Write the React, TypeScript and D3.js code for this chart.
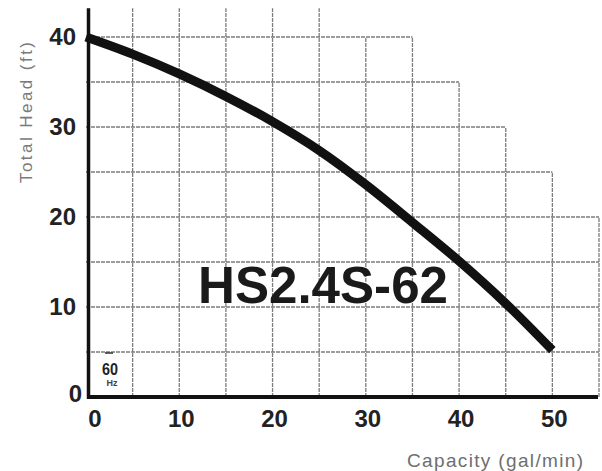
import { useEffect, useRef } from "react"
import * as d3 from "d3"

// pump curve, capacity (gal/min) vs total head (ft)
const capacity = [0, 5, 10, 15, 20, 25, 30, 35, 40, 45, 50]
const head = [40, 38.1, 35.9, 33.4, 30.6, 27.4, 23.6, 19.4, 15.1, 10.4, 5.2]

const xTicks = [0, 10, 20, 30, 40, 50]
const yTicks = [0, 10, 20, 30, 40]

// stepped grid: how far each horizontal line runs, how high each vertical line goes
const hGridY = [5, 10, 15, 20, 25, 30, 35, 40]
const hGridEnd = [55, 55, 55, 55, 50, 45, 40, 35]
const vGridX = [5, 10, 15, 20, 25, 30, 35, 40, 45, 50, 55]
const vGridTop = [43.2, 43.2, 43.2, 43.2, 43.2, 40, 40, 35, 30, 25, 20]

const modelName = "HS2.4S-62"

export default function App() {
  const svgRef = useRef<SVGSVGElement>(null)

  useEffect(() => {
    if (!svgRef.current) return
    const svg = d3.select(svgRef.current)
    svg.selectAll("*").remove()

    const x = d3.scaleLinear().domain([0, 55]).range([86, 599])
    const y = d3.scaleLinear().domain([0, 40]).range([397, 37])

    const grid = svg.append("g")
      .attr("stroke", "#7c7c7c")
      .attr("stroke-width", 1.3)
      .attr("stroke-dasharray", "4,1")

    grid.selectAll("line.h")
      .data(hGridY)
      .enter()
      .append("line")
      .attr("class", "h")
      .attr("x1", x(0))
      .attr("x2", (d, i) => x(hGridEnd[i]))
      .attr("y1", (d) => y(d))
      .attr("y2", (d) => y(d))

    grid.selectAll("line.v")
      .data(vGridX)
      .enter()
      .append("line")
      .attr("class", "v")
      .attr("x1", (d) => x(d))
      .attr("x2", (d) => x(d))
      .attr("y1", y(0))
      .attr("y2", (d, i) => y(vGridTop[i]))

    // axes lines
    svg.append("line")
      .attr("x1", x(0) + 2.5)
      .attr("x2", x(0) + 2.5)
      .attr("y1", y(43.2))
      .attr("y2", y(0) + 2)
      .attr("stroke", "#111")
      .attr("stroke-width", 3.5)

    svg.append("line")
      .attr("x1", x(0) + 1)
      .attr("x2", 598)
      .attr("y1", y(0))
      .attr("y2", y(0))
      .attr("stroke", "#111")
      .attr("stroke-width", 4)

    // tick labels
    svg.append("g")
      .selectAll("text")
      .data(xTicks)
      .enter()
      .append("text")
      .attr("x", (d) => x(d) + (d === 0 ? 9 : 2))
      .attr("y", 427)
      .attr("text-anchor", "middle")
      .attr("font-family", "Liberation Sans, Arial, sans-serif")
      .attr("font-weight", "bold")
      .attr("font-size", "24px")
      .attr("fill", "#222")
      .text((d) => d)

    svg.append("g")
      .selectAll("text")
      .data(yTicks)
      .enter()
      .append("text")
      .attr("x", (d) => (d === 0 ? 82 : 76))
      .attr("y", (d) => y(d) + (d === 0 ? 5 : 8))
      .attr("text-anchor", "end")
      .attr("font-family", "Liberation Sans, Arial, sans-serif")
      .attr("font-weight", "bold")
      .attr("font-size", "24px")
      .attr("fill", "#222")
      .text((d) => d)

    // axis titles
    svg.append("text")
      .attr("transform", "translate(32,183) rotate(-90)")
      .attr("font-family", "Liberation Sans, Arial, sans-serif")
      .attr("font-size", "17px")
      .attr("fill", "#7a7a7a")
      .attr("textLength", 141)
      .attr("lengthAdjust", "spacing")
      .text("Total  Head  (ft)")

    svg.append("text")
      .attr("x", 407)
      .attr("y", 467)
      .attr("font-family", "Liberation Sans, Arial, sans-serif")
      .attr("font-size", "19px")
      .attr("fill", "#6e6e6e")
      .attr("textLength", 176)
      .attr("lengthAdjust", "spacing")
      .text("Capacity  (gal/min)")

    // curve
    const line = d3.line<number>()
      .x((d, i) => x(capacity[i]))
      .y((d) => y(d))
      .curve(d3.curveCatmullRom)

    svg.append("path")
      .datum(head)
      .attr("d", line)
      .attr("fill", "none")
      .attr("stroke", "#111")
      .attr("stroke-width", 9)

    // model label
    svg.append("text")
      .attr("x", 323)
      .attr("y", 303)
      .attr("text-anchor", "middle")
      .attr("font-family", "Liberation Sans, Arial, sans-serif")
      .attr("font-weight", "bold")
      .attr("font-size", "52px")
      .attr("fill", "#1a1a1a")
      .attr("textLength", 250)
      .attr("lengthAdjust", "spacingAndGlyphs")
      .text(modelName)

    // 60 Hz tag
    svg.append("rect")
      .attr("x", 98)
      .attr("y", 356)
      .attr("width", 24)
      .attr("height", 36)
      .attr("fill", "#fff")

    svg.append("line")
      .attr("x1", 105)
      .attr("x2", 113)
      .attr("y1", 353)
      .attr("y2", 353)
      .attr("stroke", "#333")
      .attr("stroke-width", 1.5)

    svg.append("text")
      .attr("x", 110)
      .attr("y", 375)
      .attr("text-anchor", "middle")
      .attr("font-family", "Liberation Sans, Arial, sans-serif")
      .attr("font-weight", "bold")
      .attr("font-size", "17px")
      .attr("fill", "#222")
      .attr("textLength", 16)
      .attr("lengthAdjust", "spacingAndGlyphs")
      .text("60")

    svg.append("text")
      .attr("x", 112)
      .attr("y", 386)
      .attr("text-anchor", "middle")
      .attr("font-family", "Liberation Sans, Arial, sans-serif")
      .attr("font-weight", "bold")
      .attr("font-size", "9px")
      .attr("fill", "#444")
      .text("Hz")
  }, [])

  return (
    <svg
      ref={svgRef}
      width={602}
      height={471}
      style={{ position: "absolute", left: 0, top: 0, background: "#fff" }}
    />
  )
}
